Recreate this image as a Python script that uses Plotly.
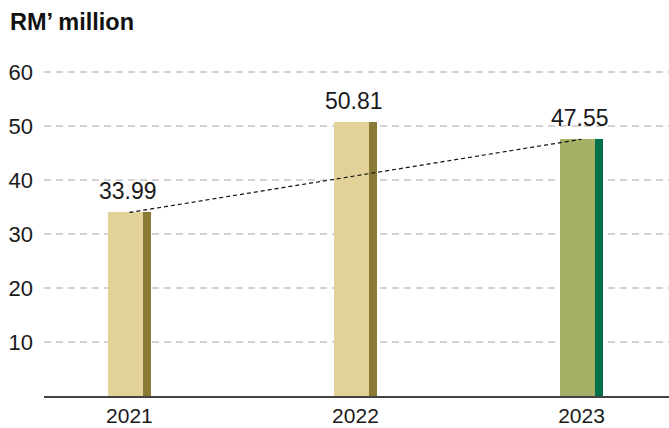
import plotly.graph_objects as go

# Revenue by financial year (RM' million)
years = ["2021", "2022", "2023"]
values = [33.99, 50.81, 47.55]
face_colors = ["#E2D198", "#E2D198", "#A5AF66"]
edge_colors = ["#8B7A35", "#8B7A35", "#00704A"]
y_ticks = [10, 20, 30, 40, 50, 60]

xs = list(range(len(years)))
FONT = "Liberation Sans, Arial, Helvetica, sans-serif"

fig = go.Figure()

# main face of each bar
fig.add_trace(go.Bar(
    x=xs, y=values, width=0.155, offset=-0.095,
    marker=dict(color=face_colors, line=dict(width=0)),
    hoverinfo="skip", showlegend=False,
))
# darker side strip giving the bar some depth
fig.add_trace(go.Bar(
    x=xs, y=values, width=0.037, offset=0.06,
    marker=dict(color=edge_colors, line=dict(width=0)),
    hoverinfo="skip", showlegend=False,
))

# dashed trend line from first to last year
fig.add_trace(go.Scatter(
    x=[xs[0], xs[-1]], y=[values[0], values[-1]],
    mode="lines", line=dict(color="#111111", width=1.2, dash="4px,3px"),
    hoverinfo="skip", showlegend=False,
))

# value labels above bars
for x, v in zip(xs, values):
    fig.add_annotation(
        x=x - 0.008, y=v, text=f"{v:.2f}", showarrow=False,
        yanchor="bottom", yshift=6,
        font=dict(family=FONT, size=23, color="#1a1a1a"),
    )

# unit label
fig.add_annotation(
    xref="paper", yref="paper", x=-0.0575, y=1.1333,
    xanchor="left", yanchor="middle", showarrow=False,
    text="<b>RM’ million</b>",
    font=dict(family=FONT, size=23.5, color="#111111"),
)

fig.update_layout(
    width=669, height=428,
    margin=dict(l=44, r=0, t=66, b=32, autoexpand=False),
    paper_bgcolor="white", plot_bgcolor="white",
    barmode="overlay", bargap=0,
    font=dict(family=FONT, size=22, color="#1a1a1a"),
    xaxis=dict(
        range=[-0.378, 2.387], tickvals=xs, ticktext=years,
        tickfont=dict(size=21),
        showgrid=False, zeroline=False,
        showline=True, linecolor="#444444", linewidth=1.5,
        ticks="", ticklabelstandoff=0, automargin=False,
        fixedrange=True,
    ),
    yaxis=dict(
        range=[0, 61.11], tickvals=y_ticks,
        showgrid=True, gridcolor="#D4D4D4", gridwidth=2, griddash="7px,5px",
        zeroline=False, showline=False, ticks="", ticklabelstandoff=10,
        automargin=False, fixedrange=True,
    ),
)

fig.write_html("out.html")
